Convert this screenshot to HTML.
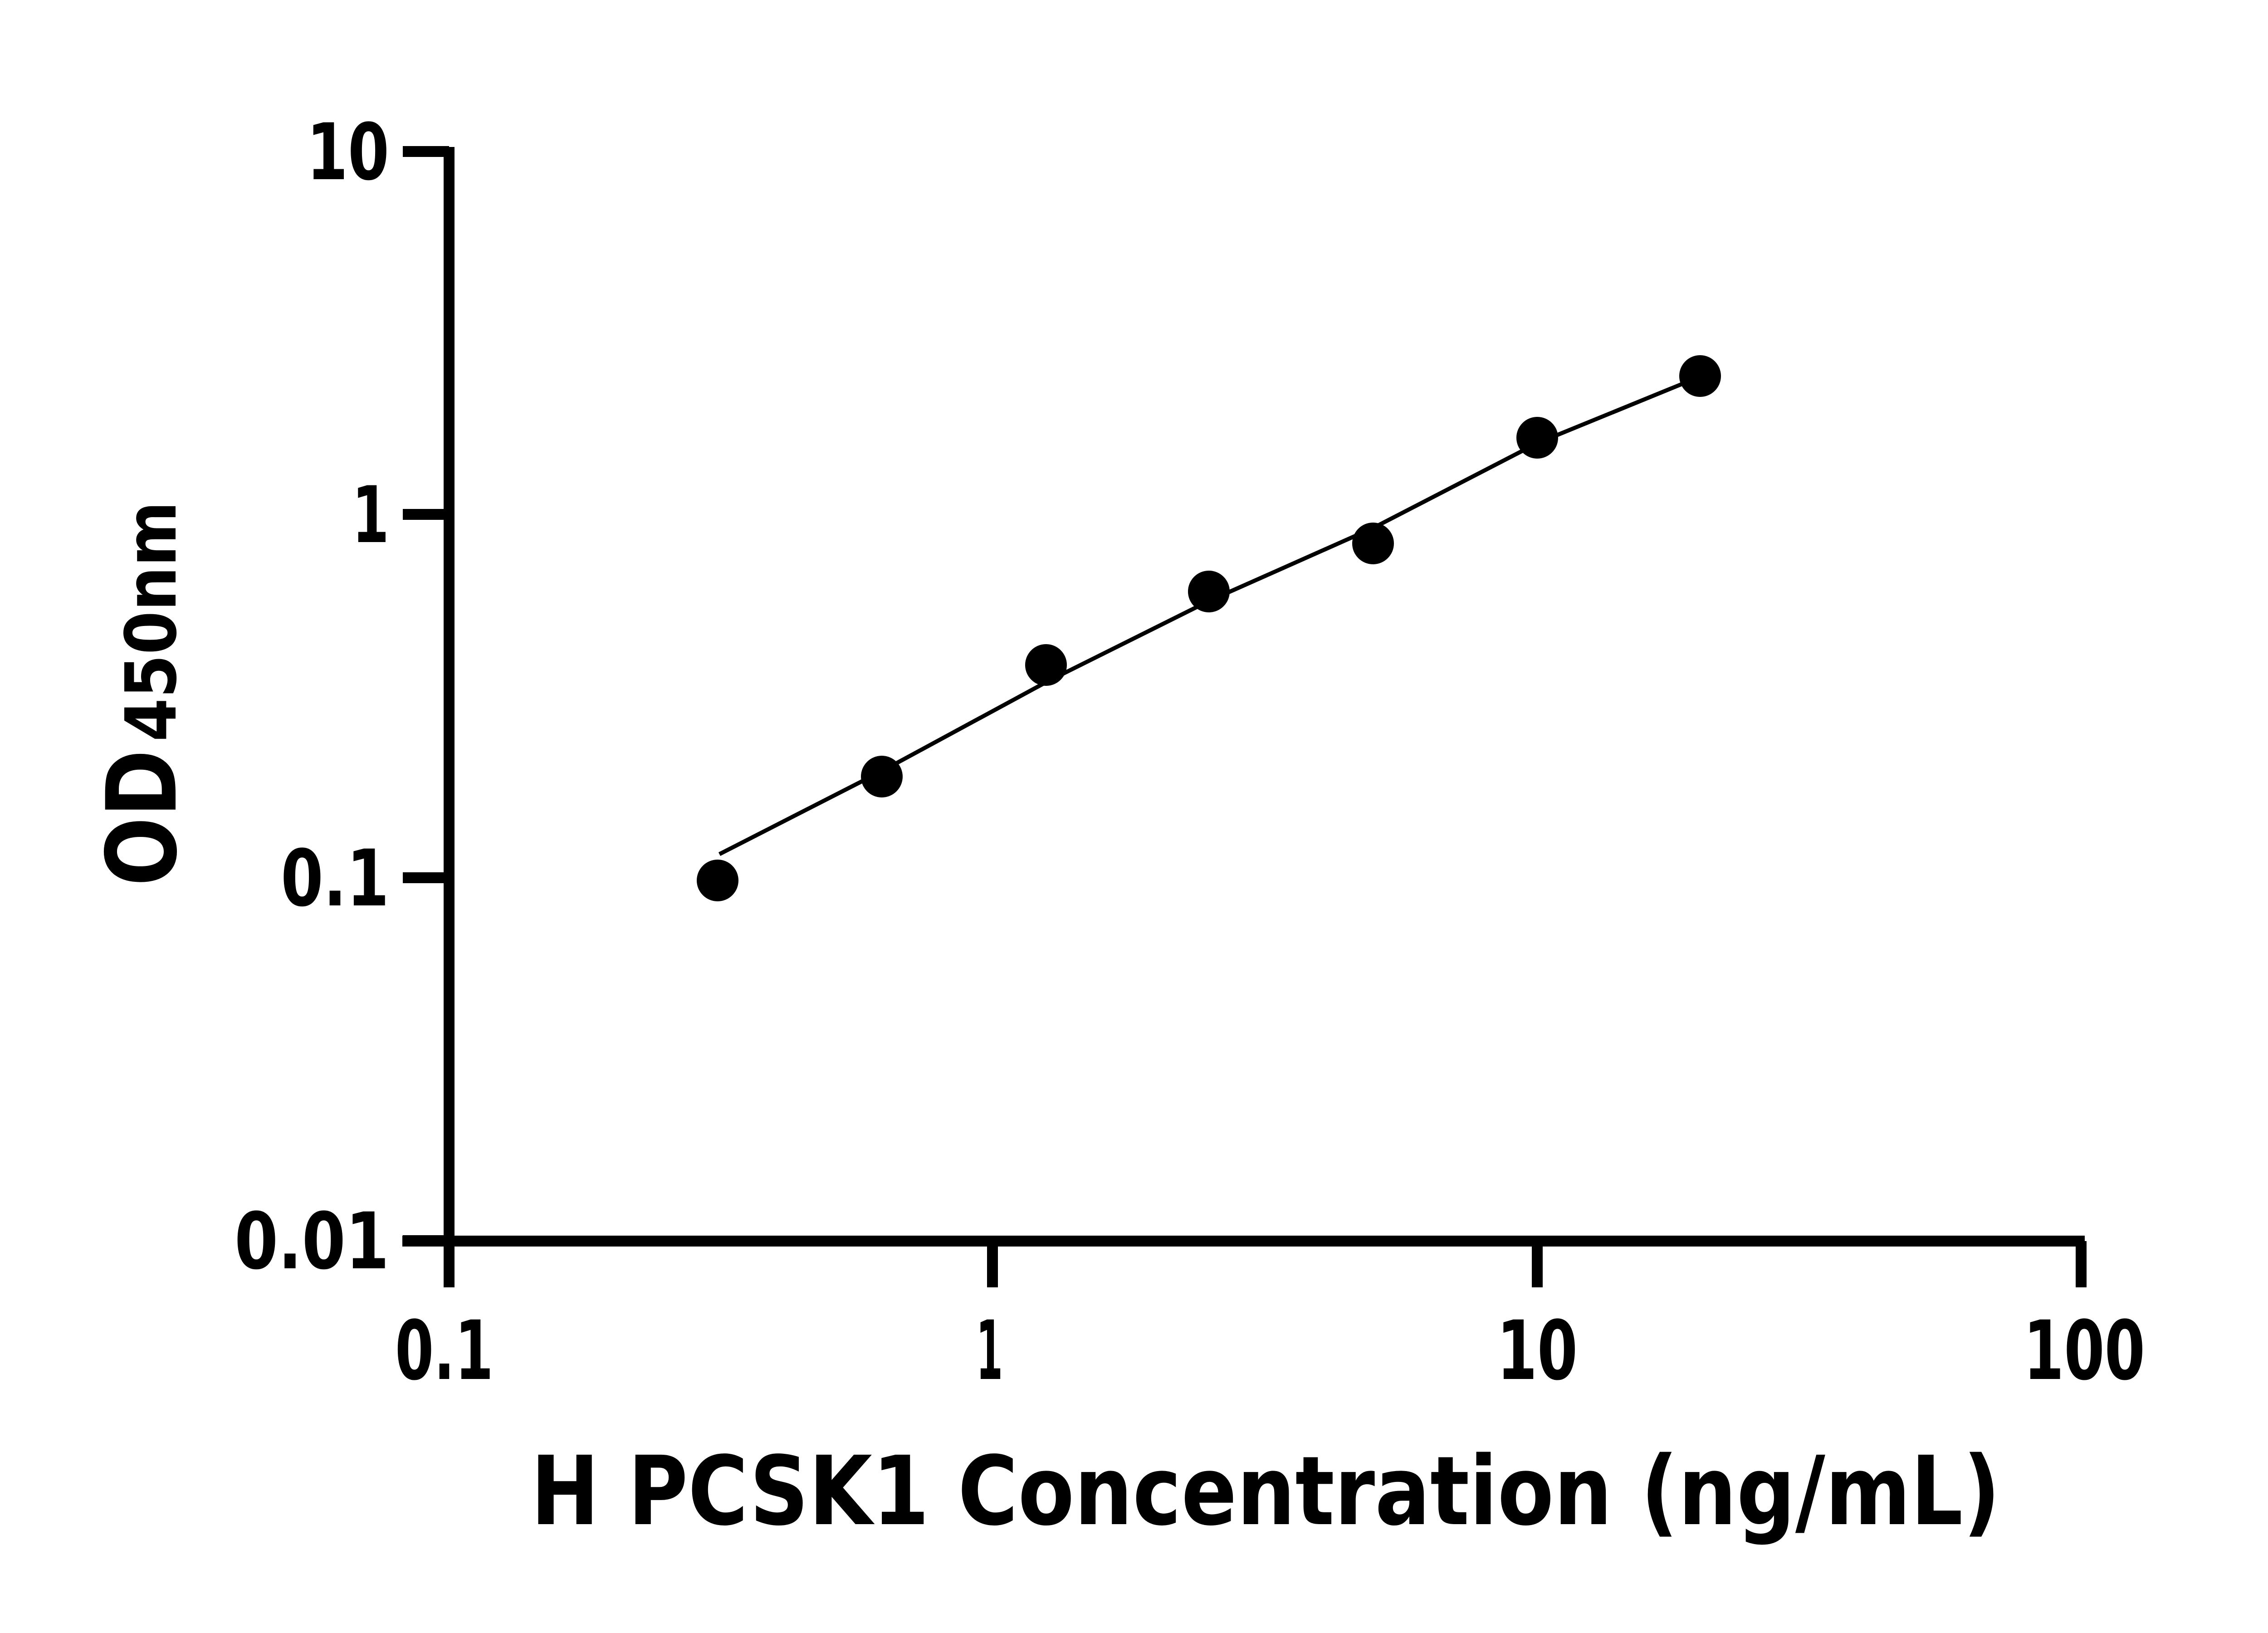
<!DOCTYPE html>
<html><head><meta charset="utf-8"><style>
html,body{margin:0;padding:0;background:#fff}
svg{display:block}
text{font-family:"DejaVu Sans","Liberation Sans",sans-serif;font-weight:bold;fill:#000}
</style></head><body>
<svg width="5142" height="3600" viewBox="0 0 5142 3600" xmlns="http://www.w3.org/2000/svg">
<rect width="5142" height="3600" fill="#fff"/>
<line x1="990" y1="324" x2="990" y2="2838" stroke="#000" stroke-width="24"/>
<line x1="887" y1="2736" x2="4596" y2="2736" stroke="#000" stroke-width="24"/>
<g stroke="#000" stroke-width="24">
<line x1="888" y1="334" x2="990" y2="334"/>
<line x1="888" y1="1134" x2="990" y2="1134"/>
<line x1="888" y1="1935" x2="990" y2="1935"/>
<line x1="888" y1="2735" x2="990" y2="2735"/>
<line x1="2188" y1="2736" x2="2188" y2="2838"/>
<line x1="3389" y1="2736" x2="3389" y2="2838"/>
<line x1="4588" y1="2736" x2="4588" y2="2838"/>
</g>
<g font-size="172" lengthAdjust="spacingAndGlyphs">
<text x="676" y="395" textLength="182" lengthAdjust="spacingAndGlyphs">10</text>
<text x="776" y="1195" textLength="82" lengthAdjust="spacingAndGlyphs">1</text>
<text x="619" y="1996" textLength="239" lengthAdjust="spacingAndGlyphs">0.1</text>
<text x="517" y="2796" textLength="341" lengthAdjust="spacingAndGlyphs">0.01</text>
</g>
<g font-size="180">
<text x="871" y="3040" textLength="217" lengthAdjust="spacingAndGlyphs">0.1</text>
<text x="2152" y="3040" textLength="59" lengthAdjust="spacingAndGlyphs">1</text>
<text x="3300" y="3040" textLength="178" lengthAdjust="spacingAndGlyphs">10</text>
<text x="4461" y="3040" textLength="268" lengthAdjust="spacingAndGlyphs">100</text>
</g>
<text x="2790" y="3360" font-size="210" text-anchor="middle" textLength="3240" lengthAdjust="spacingAndGlyphs">H PCSK1 Concentration (ng/mL)</text>
<text transform="translate(387,1803) rotate(-90)" font-size="213" text-anchor="middle" textLength="301" lengthAdjust="spacingAndGlyphs">OD</text>
<text transform="translate(387,1370) rotate(-90)" font-size="155" text-anchor="middle" textLength="530" lengthAdjust="spacingAndGlyphs">450nm</text>
<polyline fill="none" stroke="#000" stroke-width="9" points="1586,1883 1944,1700 2306,1504 2665,1325 3027,1164 3389,977 3707,847"/>
<g fill="#000">
<circle cx="1582" cy="1941" r="46"/>
<circle cx="1944" cy="1712" r="46"/>
<circle cx="2306" cy="1466" r="46"/>
<circle cx="2665" cy="1304" r="46"/>
<circle cx="3027" cy="1198" r="46"/>
<circle cx="3389" cy="965" r="46"/>
<circle cx="3748" cy="829" r="46"/>
</g>
</svg>
</body></html>
